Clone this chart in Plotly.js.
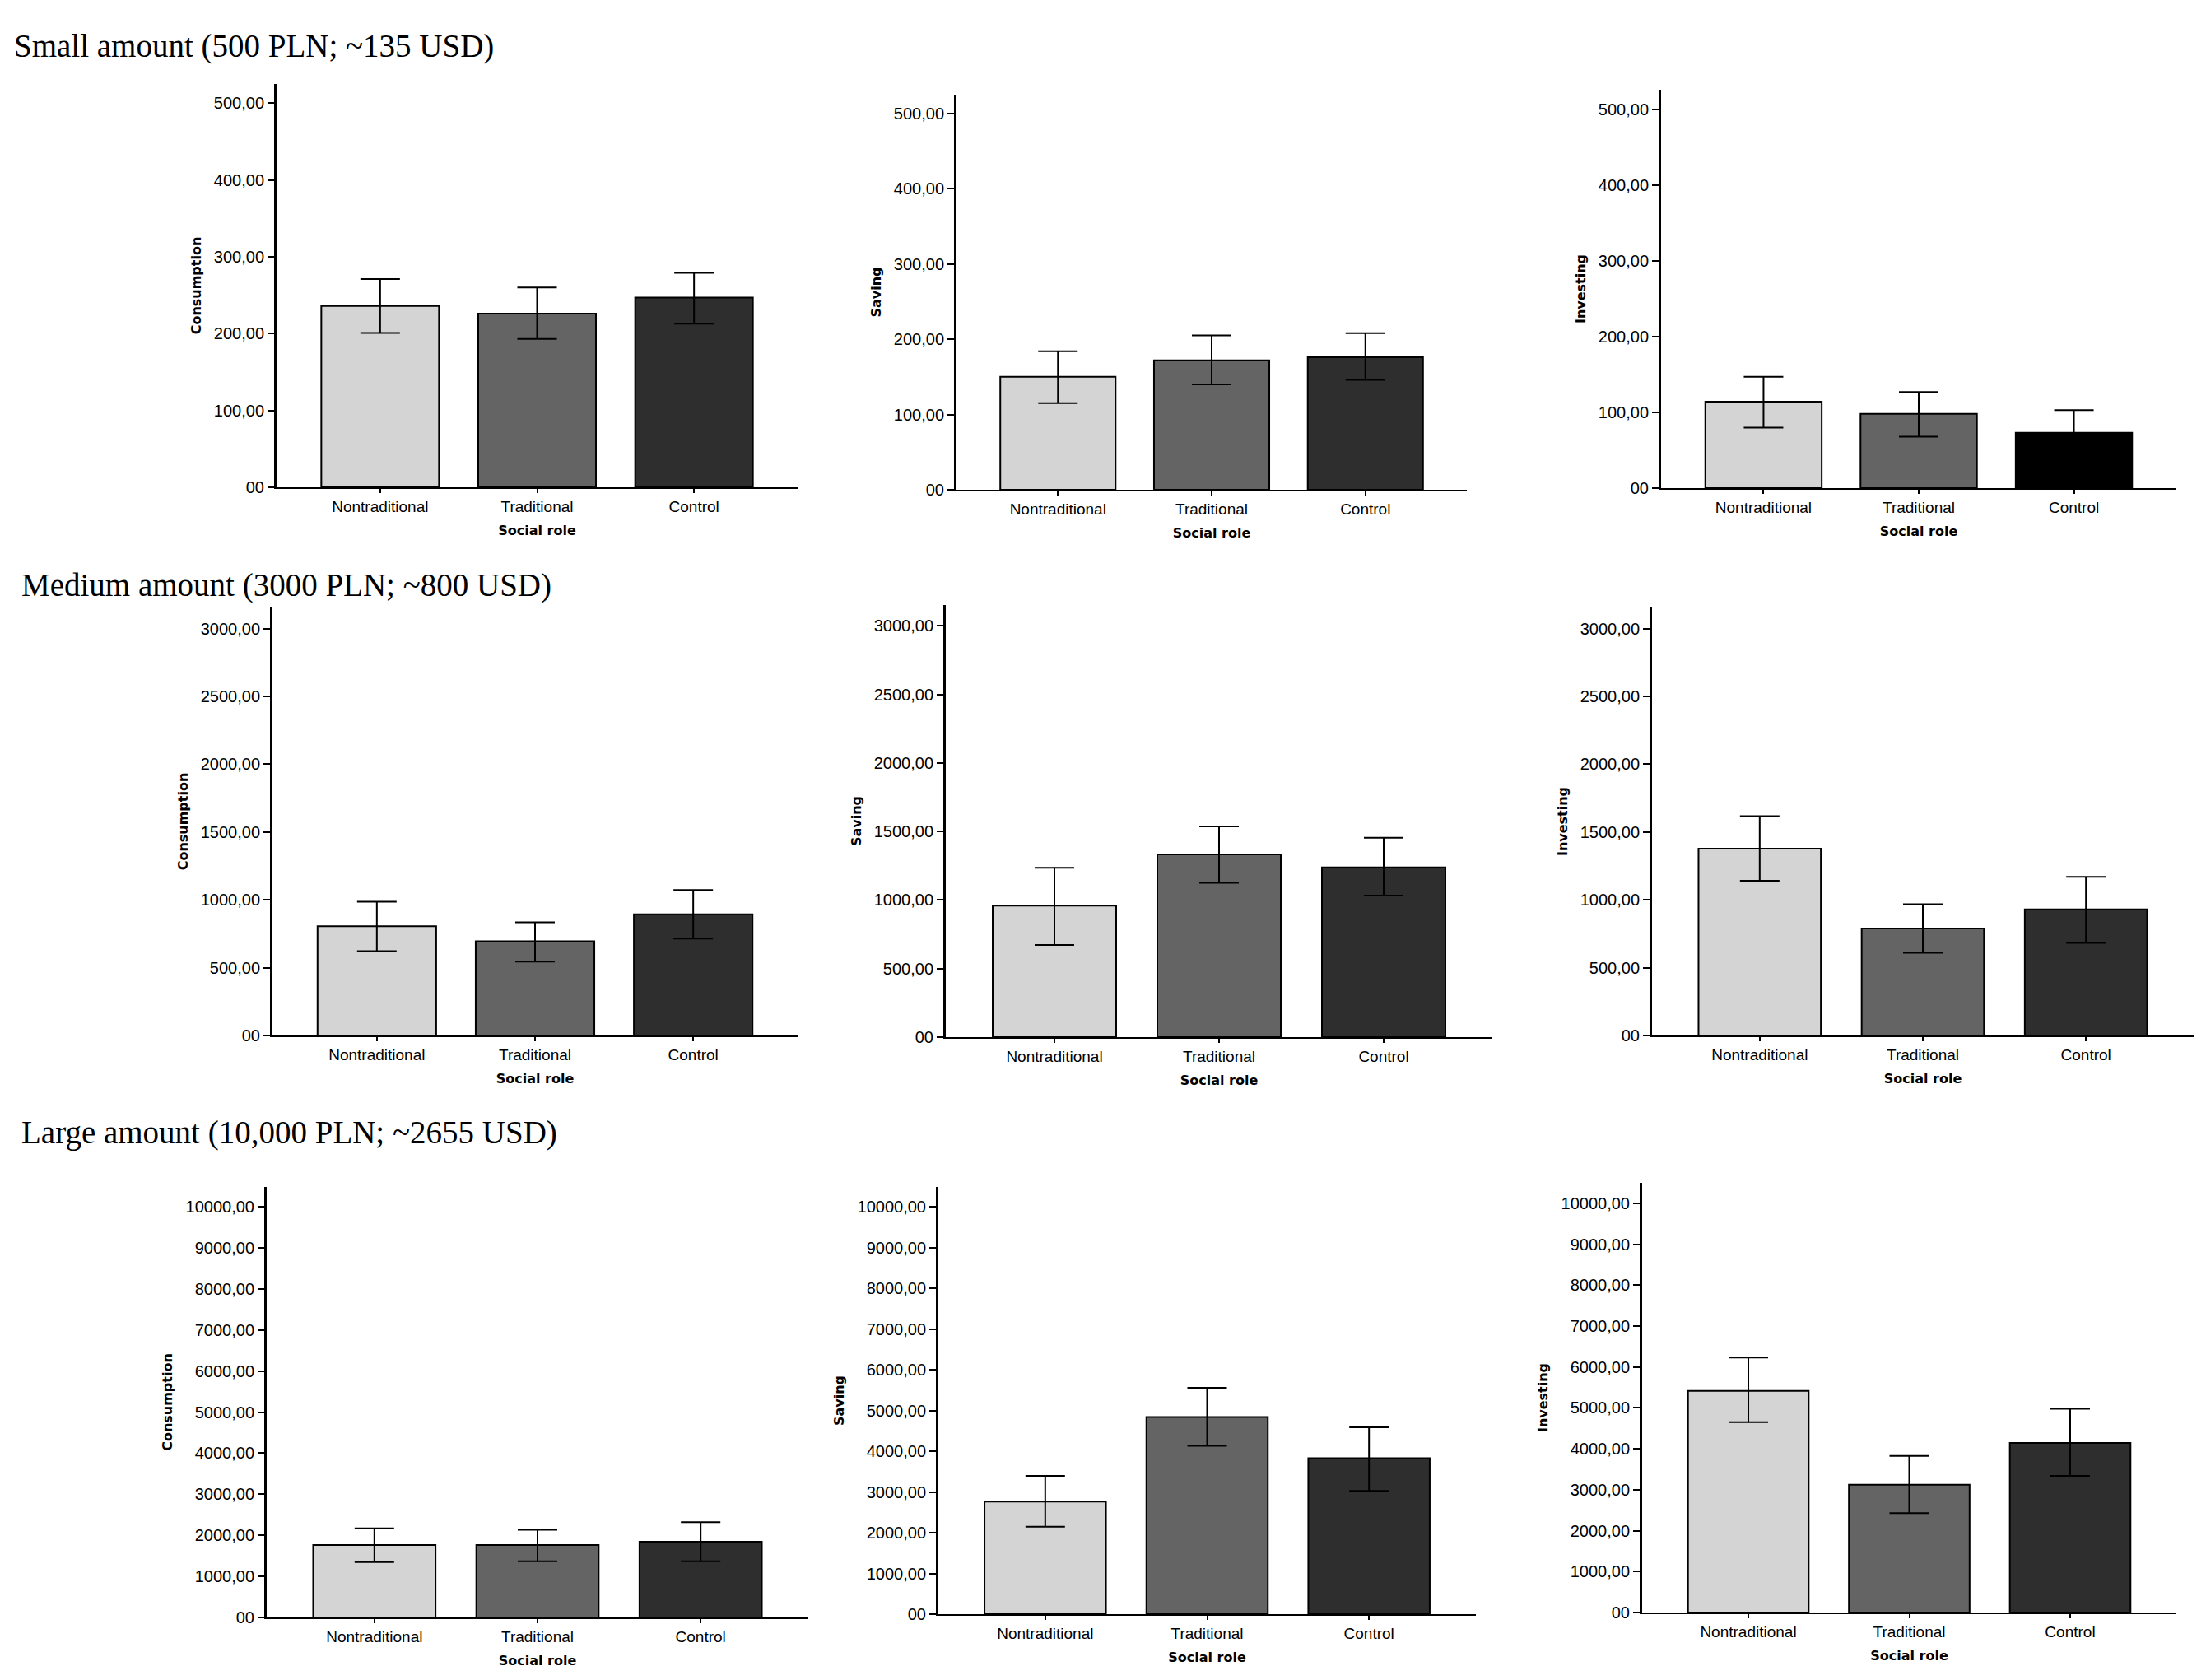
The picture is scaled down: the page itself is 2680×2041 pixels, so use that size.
<!DOCTYPE html>
<html><head><meta charset="utf-8">
<script src="https://cdn.plot.ly/plotly-3.0.1.min.js"></script>
<style>html,body{margin:0;padding:0;background:#fff;}#chart{width:2680px;height:2041px;}</style>
</head><body><div id="chart"></div>
<script>
// ---------- DATA ----------
const categories = ["Nontraditional", "Traditional", "Control"];
const measures = ["Consumption", "Saving", "Investing"];
const xAxisTitle = "Social role";
const sectionTitles = [
  "Small amount (500 PLN; ~135 USD)",
  "Medium amount (3000 PLN; ~800 USD)",
  "Large amount (10,000 PLN; ~2655 USD)"
];

// Small amount (500 PLN)
const smallConsumptionMean  = [236, 226, 247];
const smallConsumptionUpper = [271, 260, 279];
const smallConsumptionLower = [201, 193, 213];
const smallSavingMean  = [150, 172, 176];
const smallSavingUpper = [184, 205, 208];
const smallSavingLower = [115, 140, 146];
const smallInvestingMean  = [114, 98, 73];
const smallInvestingUpper = [147, 127, 103];
const smallInvestingLower = [80, 68, 44];

// Medium amount (3000 PLN)
const mediumConsumptionMean  = [805, 694, 893];
const mediumConsumptionUpper = [986, 835, 1072];
const mediumConsumptionLower = [622, 545, 715];
const mediumSavingMean  = [959, 1333, 1239];
const mediumSavingUpper = [1236, 1537, 1454];
const mediumSavingLower = [672, 1126, 1032];
const mediumInvestingMean  = [1378, 789, 930];
const mediumInvestingUpper = [1617, 968, 1169];
const mediumInvestingLower = [1141, 610, 682];

// Large amount (10,000 PLN)
const largeConsumptionMean  = [1763, 1763, 1843];
const largeConsumptionUpper = [2168, 2137, 2319];
const largeConsumptionLower = [1350, 1366, 1366];
const largeSavingMean  = [2762, 4836, 3827];
const largeSavingUpper = [3395, 5556, 4588];
const largeSavingLower = [2146, 4131, 3026];
const largeInvestingMean  = [5418, 3124, 4143];
const largeInvestingUpper = [6231, 3825, 4980];
const largeInvestingLower = [4653, 2430, 3339];

// Tick labels
const smallTickVals = [0, 100, 200, 300, 400, 500];
const smallTickText = ["00", "100,00", "200,00", "300,00", "400,00", "500,00"];
const mediumTickVals = [0, 500, 1000, 1500, 2000, 2500, 3000];
const mediumTickText = ["00", "500,00", "1000,00", "1500,00", "2000,00", "2500,00", "3000,00"];
const largeTickVals = [0, 1000, 2000, 3000, 4000, 5000, 6000, 7000, 8000, 9000, 10000];
const largeTickText = ["00", "1000,00", "2000,00", "3000,00", "4000,00", "5000,00", "6000,00", "7000,00", "8000,00", "9000,00", "10000,00"];

// ---------- STYLE / LAYOUT ----------
const W = 2680, H = 2041;
const barColors = ["#d4d4d4", "#646464", "#2e2e2e"];
const barColorsBlackControl = ["#d4d4d4", "#646464", "#000000"];

// pixel boxes [left, right, top, bottom] and y-range max
const panels = [
  {mean: smallConsumptionMean, up: smallConsumptionUpper, lo: smallConsumptionLower, measure: 0, tv: smallTickVals, tt: smallTickText, box: [336, 969, 102, 592], ymax: 525, colors: barColors},
  {mean: smallSavingMean, up: smallSavingUpper, lo: smallSavingLower, measure: 1, tv: smallTickVals, tt: smallTickText, box: [1162, 1782, 115, 595], ymax: 525, colors: barColors},
  {mean: smallInvestingMean, up: smallInvestingUpper, lo: smallInvestingLower, measure: 2, tv: smallTickVals, tt: smallTickText, box: [2018, 2644, 109, 593], ymax: 526, colors: barColorsBlackControl},
  {mean: mediumConsumptionMean, up: mediumConsumptionUpper, lo: mediumConsumptionLower, measure: 0, tv: mediumTickVals, tt: mediumTickText, box: [331, 969, 738, 1258], ymax: 3155, colors: barColors},
  {mean: mediumSavingMean, up: mediumSavingUpper, lo: mediumSavingLower, measure: 1, tv: mediumTickVals, tt: mediumTickText, box: [1149, 1813, 735, 1260], ymax: 3152, colors: barColors},
  {mean: mediumInvestingMean, up: mediumInvestingUpper, lo: mediumInvestingLower, measure: 2, tv: mediumTickVals, tt: mediumTickText, box: [2007, 2665, 738, 1258], ymax: 3155, colors: barColors},
  {mean: largeConsumptionMean, up: largeConsumptionUpper, lo: largeConsumptionLower, measure: 0, tv: largeTickVals, tt: largeTickText, box: [324, 982, 1442, 1965], ymax: 10485, colors: barColors},
  {mean: largeSavingMean, up: largeSavingUpper, lo: largeSavingLower, measure: 1, tv: largeTickVals, tt: largeTickText, box: [1140, 1793, 1442, 1961], ymax: 10485, colors: barColors},
  {mean: largeInvestingMean, up: largeInvestingUpper, lo: largeInvestingLower, measure: 2, tv: largeTickVals, tt: largeTickText, box: [1995, 2644, 1437, 1959], ymax: 10500, colors: barColors}
];

const tickFontY = {family: "Liberation Sans, Arial, sans-serif", size: 20, color: "#000"};
const tickFontX = {family: "Liberation Sans, Arial, sans-serif", size: 19, color: "#000"};
const titleFont = {family: "DejaVu Sans, Verdana, sans-serif", size: 16, color: "#000", weight: "bold"};

const traces = [];
const layout = {
  width: W, height: H,
  margin: {l: 0, r: 0, t: 0, b: 0, pad: 0},
  paper_bgcolor: "#fff", plot_bgcolor: "rgba(0,0,0,0)",
  showlegend: false,
  shapes: [],
  annotations: []
};

panels.forEach((p, i) => {
  const n = i + 1;
  const xs = n === 1 ? "" : String(n);
  traces.push({
    type: "bar",
    x: categories,
    y: p.mean,
    width: 0.75,
    xaxis: "x" + xs, yaxis: "y" + xs,
    marker: {color: p.colors, line: {color: "#000", width: 2}},
    error_y: {
      type: "data", symmetric: false,
      array: p.up.map((u, k) => u - p.mean[k]),
      arrayminus: p.lo.map((l, k) => p.mean[k] - l),
      color: "#000", thickness: 2, width: 24
    },
    hoverinfo: "skip"
  });
  const [l, r, t, b] = p.box;
  layout["xaxis" + xs] = {
    domain: [l / W, r / W],
    anchor: "y" + xs,
    type: "category",
    range: [-0.66, 2.66],
    showline: true, linecolor: "#000", linewidth: 2,
    ticks: "outside", ticklen: 5, tickwidth: 2, tickcolor: "#000",
    tickfont: tickFontX,
    showgrid: false, zeroline: false, fixedrange: true,
    title: {text: xAxisTitle, font: titleFont, standoff: 14}
  };
  layout["yaxis" + xs] = {
    domain: [1 - b / H, 1 - t / H],
    anchor: "x" + xs,
    range: [0, p.ymax],
    tickmode: "array", tickvals: p.tv, ticktext: p.tt,
    showline: true, linecolor: "#000", linewidth: 3,
    ticks: "outside", ticklen: 8, tickwidth: 2, tickcolor: "#000",
    tickfont: tickFontY,
    showgrid: false, zeroline: false, fixedrange: true,
    title: {text: measures[p.measure], font: titleFont, standoff: 12}
  };
  // gray double line under x-axis (SPSS style)
  layout.shapes.push({
    type: "line", xref: "x" + xs + " domain", yref: "y" + xs,
    ysizemode: "pixel", yanchor: 0, y0: -4, y1: -4, x0: 0, x1: 1,
    line: {color: "#a0a0a0", width: 2}
  });
});

const sectionPos = [[15, 56], [24, 711], [24, 1376]];
sectionTitles.forEach((s, i) => {
  layout.annotations.push({
    text: s, xref: "paper", yref: "paper",
    x: sectionPos[i][0] / W, y: 1 - sectionPos[i][1] / H,
    xanchor: "left", yanchor: "middle", showarrow: false,
    font: {family: "Liberation Serif, Times New Roman, serif", size: 39, color: "#000"}
  });
});

Plotly.newPlot("chart", traces, layout, {displayModeBar: false, staticPlot: true});
</script>
</body></html>
